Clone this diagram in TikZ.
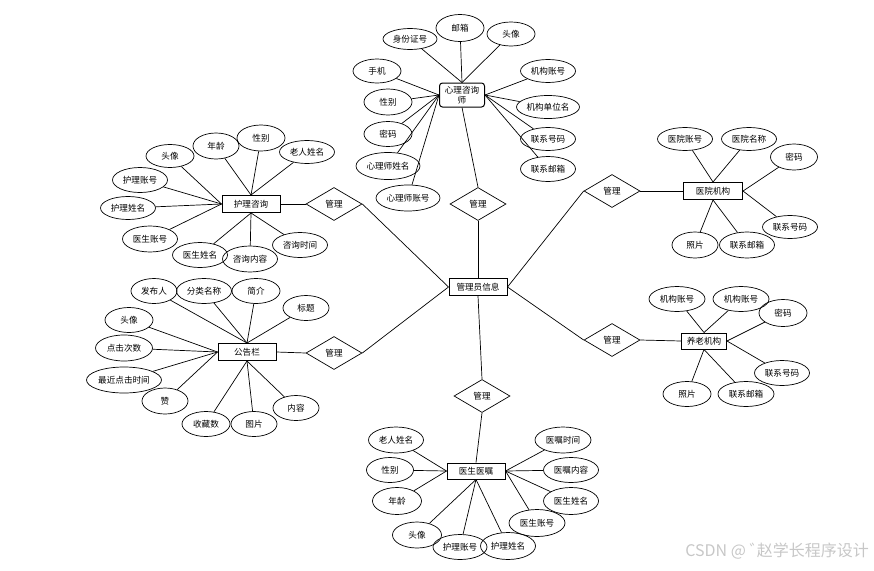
\documentclass[tikz,border=0pt]{standalone}
\usepackage{fontspec}
\newfontfamily\cjk{Noto Sans CJK SC}
\usetikzlibrary{shapes.geometric}
\begin{document}
\begin{tikzpicture}[x=1pt,y=-1pt,
  every node/.style={font=\cjk\fontsize{8.6}{10}\selectfont, inner sep=0pt},
  ent/.style={draw, line width=1pt, rectangle, minimum width=58, minimum height=17},
  attr/.style={draw, line width=0.7pt, ellipse, minimum width=48, minimum height=25},
  wattr/.style={attr, minimum width=55},
  rel/.style={draw, line width=0.7pt, diamond, aspect=1.65, minimum width=56, minimum height=33},
  link/.style={line width=0.7pt}]
\useasboundingbox (0,0) rectangle (874,570);

% central entity and relationships
\node[ent] (M) at (478,287) {管理员信息};
\node[rel] (dT) at (478,204) {管理};
\node[rel] (dL1) at (334,204) {管理};
\node[rel] (dL2) at (334,353) {管理};
\node[rel] (dR1) at (612,191) {管理};
\node[rel] (dR2) at (612,340) {管理};
\node[rel] (dB) at (482,396) {管理};

% entities
\node[ent, rounded corners=3pt, minimum width=45, minimum height=24, align=center] (T) at (462,95) {心理咨询\\师};
\node[ent] (H) at (251,204) {护理咨询};
\node[ent] (G) at (247,352) {公告栏};
\node[ent, minimum width=59] (Y) at (713,191) {医院机构};
\node[ent, minimum width=45, minimum height=16] (P) at (704,341) {养老机构};
\node[ent, minimum height=16] (D) at (476,471) {医生医嘱};

% relationship links
\draw[link] (M.north) -- (dT.south);
\draw[link] (dT.north) -- (T.south);
\draw[link] (M.west) -- (dL1.east);
\draw[link] (dL1.west) -- (H.east);
\draw[link] (M.west) -- (dL2.east);
\draw[link] (dL2.west) -- (G.east);
\draw[link] (M.east) -- (dR1.west);
\draw[link] (dR1.east) -- (Y.west);
\draw[link] (M.east) -- (dR2.west);
\draw[link] (dR2.east) -- (P.west);
\draw[link] (M.south) -- (dB.north);
\draw[link] (dB.south) -- (D.north);

% attributes of 心理咨询师
\node[attr, minimum width=54, minimum height=21] (t1) at (410,39) {身份证号};
\node[attr, minimum height=27] (t2) at (460,28) {邮箱};
\node[attr, minimum height=24] (t3) at (511,34) {头像};
\node[attr, minimum height=24] (t4) at (377,71) {手机};
\node[attr, minimum height=26] (t5) at (388,102) {性别};
\node[attr] (t6) at (388,134) {密码};
\node[attr, minimum width=64, minimum height=27] (t7) at (388,166) {心理师姓名};
\node[attr, minimum width=64, minimum height=26] (t8) at (408,198) {心理师账号};
\node[wattr, minimum height=23] (t9) at (548,71) {机构账号};
\node[attr, minimum width=63, minimum height=23] (t10) at (548,107) {机构单位名};
\node[wattr, minimum height=23] (t11) at (548,139) {联系号码};
\node[wattr] (t12) at (548,169) {联系邮箱};
\foreach \a in {t1,t2,t3} \draw[link] (\a) -- (T.north);
\foreach \a in {t4,t5,t6,t7,t8} \draw[link] (\a) -- (T.west);
\foreach \a in {t9,t10,t11,t12} \draw[link] (\a) -- (T.east);

% attributes of 护理咨询
\node[attr, minimum height=23] (h1) at (170,156) {头像};
\node[attr, minimum width=46, minimum height=26] (h2) at (216,146) {年龄};
\node[attr, minimum height=26] (h3) at (261,138) {性别};
\node[wattr, minimum height=23] (h4) at (307,152) {老人姓名};
\node[wattr] (h5) at (140,180) {护理账号};
\node[wattr, minimum height=23] (h6) at (128,208) {护理姓名};
\node[wattr, minimum height=26] (h7) at (150,239) {医生账号};
\node[wattr] (h8) at (200,255) {医生姓名};
\node[wattr, minimum height=26] (h9) at (250,259) {咨询内容};
\node[wattr] (h10) at (300,245) {咨询时间};
\foreach \a in {h2,h3,h4} \draw[link] (\a) -- (H.north);
\foreach \a in {h1,h5,h6,h7} \draw[link] (\a) -- (H.west);
\foreach \a in {h8,h9,h10} \draw[link] (\a) -- (H.south);

% attributes of 公告栏
\node[attr, minimum width=46] (g1) at (154,291) {发布人};
\node[wattr] (g2) at (204,291) {分类名称};
\node[attr] (g3) at (256,291) {简介};
\node[attr, minimum width=46] (g4) at (306,308) {标题};
\node[attr] (g5) at (129,320) {头像};
\node[attr, minimum width=57, minimum height=26] (g6) at (124,348) {点击次数};
\node[attr, minimum width=75, minimum height=26] (g7) at (124,380) {最近点击时间};
\node[attr, minimum width=46, minimum height=26] (g8) at (165,401) {赞};
\node[attr] (g9) at (206,424) {收藏数};
\node[attr, minimum width=46] (g10) at (254,424) {图片};
\node[attr, minimum width=46] (g11) at (296,408) {内容};
\foreach \a in {g1,g2,g3,g4} \draw[link] (\a) -- (G.north);
\foreach \a in {g5,g6,g7,g8} \draw[link] (\a) -- (G.west);
\foreach \a in {g9,g10,g11} \draw[link] (\a) -- (G.south);

% attributes of 医院机构
\node[wattr, minimum height=23] (y1) at (685,139) {医院账号};
\node[wattr, minimum height=23] (y2) at (749,139) {医院名称};
\node[attr, minimum width=47, minimum height=26] (y3) at (794,157) {密码};
\node[wattr, minimum height=23] (y4) at (790,227) {联系号码};
\node[attr, minimum width=46, minimum height=26] (y5) at (695,245) {照片};
\node[wattr, minimum height=26] (y6) at (747,245) {联系邮箱};
\foreach \a in {y1,y2} \draw[link] (\a) -- (Y.north);
\foreach \a in {y3,y4} \draw[link] (\a) -- (Y.east);
\foreach \a in {y5,y6} \draw[link] (\a) -- (Y.south);

% attributes of 养老机构
\node[attr, minimum width=56] (p1) at (677,299) {机构账号};
\node[attr, minimum width=56] (p2) at (741,299) {机构账号};
\node[attr, minimum height=27] (p3) at (783,313) {密码};
\node[wattr] (p4) at (782,373) {联系号码};
\node[attr] (p5) at (687,394) {照片};
\node[attr, minimum width=56] (p6) at (746,394) {联系邮箱};
\foreach \a in {p1,p2} \draw[link] (\a) -- (P.north);
\foreach \a in {p3,p4} \draw[link] (\a) -- (P.east);
\foreach \a in {p5,p6} \draw[link] (\a) -- (P.south);

% attributes of 医生医嘱
\node[wattr, minimum height=26] (d1) at (396,440) {老人姓名};
\node[attr, minimum width=47] (d2) at (390,470) {性别};
\node[attr, minimum width=49, minimum height=27] (d3) at (397,501) {年龄};
\node[attr, minimum width=49, minimum height=26] (d4) at (417,535) {头像};
\node[attr, minimum width=54] (d5) at (460,547) {护理账号};
\node[wattr, minimum height=27] (d6) at (508,546) {护理姓名};
\node[attr, minimum width=56, minimum height=27] (d7) at (537,523) {医生账号};
\node[wattr, minimum height=27] (d8) at (571,501) {医生姓名};
\node[wattr] (d9) at (571,470) {医嘱内容};
\node[attr, minimum width=56, minimum height=26] (d10) at (563,440) {医嘱时间};
\foreach \a in {d1,d2,d3} \draw[link] (\a) -- (D.west);
\foreach \a in {d4,d5,d6} \draw[link] (\a) -- (D.south);
\foreach \a in {d7,d8,d9,d10} \draw[link] (\a) -- (D.east);

% watermark
\node[anchor=east, text=black!22, font=\cjk\fontsize{16}{18}\selectfont] (wm) at (869,551) {CSDN @ ゛\kern-0.55em赵学长程序设计};
\end{tikzpicture}
\end{document}
